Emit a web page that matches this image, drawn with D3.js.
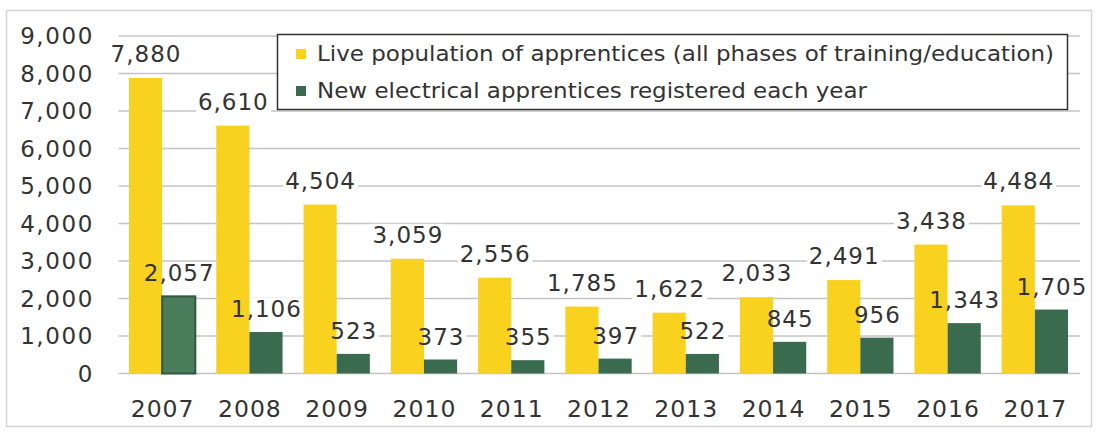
<!doctype html>
<html lang="en">
<head>
  <meta charset="utf-8">
  <title>Electrical apprentices</title>
</head>
<style>
html, body, svg {
    margin: 0;
    padding: 0;
    border: 0;
    background: #fff;
}
text {
    font-family: "DejaVu Sans", Verdana, sans-serif;
    fill: #333;
}
</style>
<body>
  <svg></svg>
</body>
<script src="https://d3js.org/d3.v7.min.js"></script>
<script type="text/javascript">
    var years = ["2007", "2008", "2009", "2010", "2011", "2012", "2013", "2014", "2015", "2016", "2017"];
    var live_population = [7880, 6610, 4504, 3059, 2556, 1785, 1622, 2033, 2491, 3438, 4484];
    var new_registered = [2057, 1106, 523, 373, 355, 397, 522, 845, 956, 1343, 1705];
    var y_ticks = [0, 1000, 2000, 3000, 4000, 5000, 6000, 7000, 8000, 9000];
    var series_names = [
      "Live population of apprentices (all phases of training/education)",
      "New electrical apprentices registered each year"
    ];
    var series_colors = ["#f9d21f", "#3b6b4f"];

    var w = 1098;
    var h = 432;

    var svg = d3.select("svg")
      .attr("width", w)
      .attr("height", h);

    // outer frame
    svg.append("rect")
      .attr("x", 6.5).attr("y", 10.5)
      .attr("width", 1085).attr("height", 416)
      .attr("fill", "none")
      .attr("stroke", "#d4d4d4")
      .attr("stroke-width", 1.5);

    var x = d3.scaleBand()
      .domain(years)
      .range([118.5, 1078.5])
      .paddingInner(0.24)
      .paddingOuter(0.12);

    var x_series = d3.scaleBand()
      .domain([0, 1])
      .range([0, x.bandwidth()]);

    var y = d3.scaleLinear()
      .domain([0, 9000])
      .range([373.5, 36]);

    var fmt = d3.format(",");

    // gridlines
    svg.append("g")
      .selectAll("line")
      .data(y_ticks)
      .enter()
      .append("line")
      .attr("x1", 118.5)
      .attr("x2", 1080)
      .attr("y1", function(d){ return y(d); })
      .attr("y2", function(d){ return y(d); })
      .attr("stroke", "#c4c4c4")
      .attr("stroke-width", 1.5);

    // y tick labels
    svg.append("g")
      .selectAll("text")
      .data(y_ticks)
      .enter()
      .append("text")
      .attr("x", 94)
      .attr("y", function(d){ return y(d) + 8; })
      .attr("text-anchor", "end")
      .attr("font-size", 23)
      .attr("letter-spacing", 1.6)
      .text(function(d){ return fmt(d); });

    // year labels
    svg.append("g")
      .selectAll("text")
      .data(years)
      .enter()
      .append("text")
      .attr("x", function(d){ return x(d) + x.bandwidth()/2 + 0.5; })
      .attr("y", 417)
      .attr("text-anchor", "middle")
      .attr("font-size", 23.5)
      .attr("letter-spacing", 1)
      .text(function(d){ return d; });

    var series = [live_population, new_registered];

    var label_data = [];
    series.forEach(function(vals, s){
      vals.forEach(function(v, i){
        label_data.push({s: s, year: years[i], value: v});
      });
    });

    function labelX(d){ return x(d.year) + x_series(d.s) + x_series.bandwidth()/2 + 0.5; }
    function labelY(d){ return y(d.value) - (d.s === 0 ? 16 : 15); }

    // white boxes behind labels (cut the gridlines)
    var labels = svg.append("g");
    labels.selectAll("text")
      .data(label_data)
      .enter()
      .append("text")
      .attr("x", labelX)
      .attr("y", labelY)
      .attr("text-anchor", "middle")
      .attr("font-size", 23)
      .attr("letter-spacing", 1)
      .text(function(d){ return fmt(d.value); })
      .each(function(d){ d.box = this.getBBox(); });
    labels.selectAll("text").remove();
    labels.selectAll("rect")
      .data(label_data)
      .enter()
      .append("rect")
      .attr("x", function(d){ return d.box.x - 2; })
      .attr("y", function(d){ return d.box.y + 2; })
      .attr("width", function(d){ return d.box.width + 4; })
      .attr("height", function(d){ return d.box.height - 2; })
      .attr("fill", "#fff");

    // bars
    series.forEach(function(vals, s){
      svg.append("g")
        .selectAll("rect")
        .data(vals)
        .enter()
        .append("rect")
        .attr("x", function(d, i){ return x(years[i]) + x_series(s); })
        .attr("width", x_series.bandwidth())
        .attr("y", function(d){ return y(d); })
        .attr("height", function(d){ return y(0) - y(d); })
        .attr("fill", function(d, i){ return (s === 1 && i === 0) ? "#4b7c5c" : series_colors[s]; })
        .attr("stroke", function(d, i){ return (s === 1 && i === 0) ? "#2d5a3d" : "none"; })
        .attr("stroke-width", 2);
    });

    // value labels
    svg.append("g")
      .selectAll("text")
      .data(label_data)
      .enter()
      .append("text")
      .attr("x", labelX)
      .attr("y", labelY)
      .attr("text-anchor", "middle")
      .attr("font-size", 23)
      .attr("letter-spacing", 1)
      .text(function(d){ return fmt(d.value); });

    // legend
    var legend = svg.append("g");
    legend.append("rect")
      .attr("x", 277.5).attr("y", 34.5)
      .attr("width", 790).attr("height", 75)
      .attr("fill", "#fff")
      .attr("stroke", "#333")
      .attr("stroke-width", 1.5);

    var items = legend.selectAll("g.item")
      .data(series_names)
      .enter()
      .append("g")
      .attr("class", "item")
      .attr("transform", function(d, i){ return "translate(296," + (53 + i*37) + ")"; });

    items.append("rect")
      .attr("x", 0).attr("y", -4)
      .attr("width", 10).attr("height", 10)
      .attr("fill", function(d, i){ return series_colors[i]; });

    items.append("text")
      .attr("x", 21)
      .attr("y", 8)
      .attr("font-size", 22)
      .attr("textLength", function(d, i){ return i === 0 ? 737 : 550; })
      .attr("lengthAdjust", "spacingAndGlyphs")
      .text(function(d){ return d; });
</script>
</html>
